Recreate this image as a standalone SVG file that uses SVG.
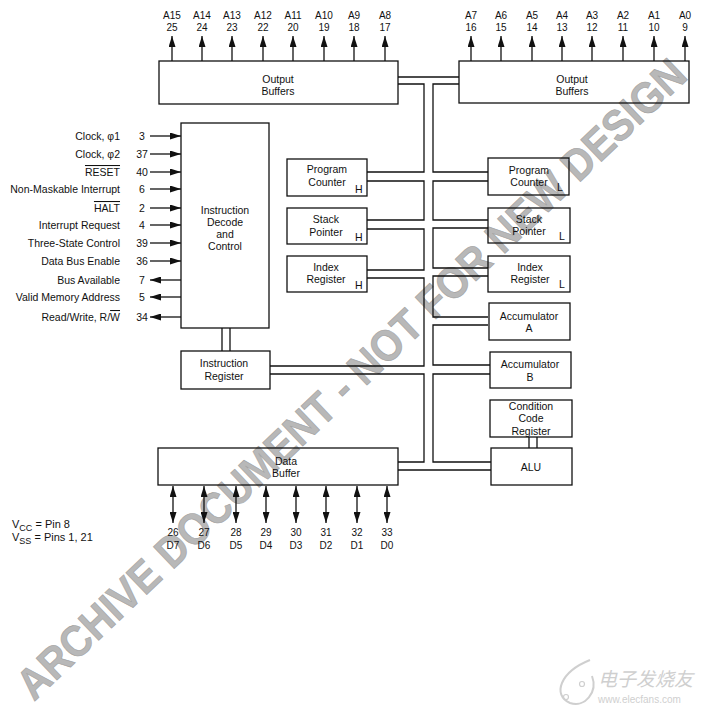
<svg xmlns="http://www.w3.org/2000/svg" width="707" height="712" viewBox="0 0 707 712">
<style>
text{font-family:"Liberation Sans",Arial,Helvetica,sans-serif;font-size:10.5px;fill:#111}
.c{text-anchor:middle}
.r{text-anchor:end}
.pin{font-size:10px}
.box{fill:none;stroke:#111;stroke-width:1.3}
.ln{fill:none;stroke:#111;stroke-width:1.3}
.wm{font-family:"Liberation Sans",Arial,sans-serif;font-weight:bold;font-size:44px;fill:#b8b8b8;stroke:#a0a0a0;stroke-width:0.6}
</style>
<defs>
<marker id="ah" viewBox="0 0 11 7" refX="11" refY="3.5" markerWidth="11" markerHeight="7" markerUnits="userSpaceOnUse" orient="auto-start-reverse"><path d="M0,0 L11,3.5 L0,7 z" fill="#111"/></marker>
</defs>
<rect width="707" height="712" fill="#fff"/>
<g id="watermark">
<text class="wm" transform="translate(34,702) rotate(-43.6)" textLength="905" lengthAdjust="spacingAndGlyphs">ARCHIVE DOCUMENT - NOT FOR NEW DESIGN</text>
</g>
<g id="logo">
<path d="M590,660 C560,672 552,695 570,703 C585,708 598,692 592,676" fill="none" stroke="#cfcfcf" stroke-width="2"/>
<circle cx="566" cy="697" r="2.5" fill="none" stroke="#cfcfcf" stroke-width="1.2"/>
<circle cx="582" cy="684" r="2.5" fill="none" stroke="#cfcfcf" stroke-width="1.2"/>
<text x="598" y="686" style="font-family:'Noto Sans CJK SC',sans-serif;font-size:19px;fill:#cfcfcf;font-style:italic">电子发烧友</text>
<text x="598" y="703" style="font-size:10px;fill:#cfcfcf">www.elecfans.com</text>
</g>

<g id="connectors">
<path class="ln" d="M398,77 H459"/>
<path class="ln" d="M398,84 H424 V172 H367"/>
<path class="ln" d="M367,181 H424 V220 H367"/>
<path class="ln" d="M367,229 H424 V270 H367"/>
<path class="ln" d="M367,278 H424 V366 H270"/>
<path class="ln" d="M270,374 H424 V462 H398"/>
<path class="ln" d="M459,84 H433 V172 H488"/>
<path class="ln" d="M488,181 H433 V220 H488"/>
<path class="ln" d="M488,228 H433 V268 H488"/>
<path class="ln" d="M488,276 H433 V317 H488"/>
<path class="ln" d="M488,325 H433 V365 H490"/>
<path class="ln" d="M490,374 H433 V462 H491"/>
<path class="ln" d="M398,470 H491"/>
<path class="ln" d="M529,437 V448 M537,437 V448"/>
<path class="ln" d="M222,328 V351 M230,328 V351"/>
<g class="ln" marker-end="url(#ah)">
<path d="M172,61 V36"/><path d="M202,61 V36"/><path d="M232,61 V36"/><path d="M263,61 V36"/>
<path d="M293,61 V36"/><path d="M324,61 V36"/><path d="M354,61 V36"/><path d="M385,61 V36"/>
<path d="M471,61 V36"/><path d="M501,61 V36"/><path d="M532,61 V36"/><path d="M562,61 V36"/>
<path d="M592,61 V36"/><path d="M623,61 V36"/><path d="M654,61 V36"/><path d="M685,61 V36"/>
</g>
<g class="ln" marker-end="url(#ah)">
<path d="M150,136 H181"/><path d="M150,154 H181"/><path d="M150,172 H181"/><path d="M150,189 H181"/>
<path d="M150,208 H181"/><path d="M150,225 H181"/><path d="M150,243 H181"/><path d="M150,261 H181"/>
</g>
<g class="ln" marker-end="url(#ah)">
<path d="M181,280 H150"/><path d="M181,297 H150"/><path d="M181,317 H150"/>
</g>
<g class="ln" marker-start="url(#ah)" marker-end="url(#ah)">
<path d="M173,486 V523"/><path d="M204,486 V523"/><path d="M236,486 V523"/><path d="M266,486 V523"/>
<path d="M296,486 V523"/><path d="M326,486 V523"/><path d="M357,486 V523"/><path d="M387,486 V523"/>
</g>
</g>

<g id="addr-labels">
<text class="c pin" x="172" y="19">A15</text><text class="c pin" x="172" y="31">25</text>
<text class="c pin" x="202" y="19">A14</text><text class="c pin" x="202" y="31">24</text>
<text class="c pin" x="232" y="19">A13</text><text class="c pin" x="232" y="31">23</text>
<text class="c pin" x="263" y="19">A12</text><text class="c pin" x="263" y="31">22</text>
<text class="c pin" x="293" y="19">A11</text><text class="c pin" x="293" y="31">20</text>
<text class="c pin" x="324" y="19">A10</text><text class="c pin" x="324" y="31">19</text>
<text class="c pin" x="354" y="19">A9</text><text class="c pin" x="354" y="31">18</text>
<text class="c pin" x="385" y="19">A8</text><text class="c pin" x="385" y="31">17</text>
<text class="c pin" x="471" y="19">A7</text><text class="c pin" x="471" y="31">16</text>
<text class="c pin" x="501" y="19">A6</text><text class="c pin" x="501" y="31">15</text>
<text class="c pin" x="532" y="19">A5</text><text class="c pin" x="532" y="31">14</text>
<text class="c pin" x="562" y="19">A4</text><text class="c pin" x="562" y="31">13</text>
<text class="c pin" x="592" y="19">A3</text><text class="c pin" x="592" y="31">12</text>
<text class="c pin" x="623" y="19">A2</text><text class="c pin" x="623" y="31">11</text>
<text class="c pin" x="654" y="19">A1</text><text class="c pin" x="654" y="31">10</text>
<text class="c pin" x="685" y="19">A0</text><text class="c pin" x="685" y="31">9</text>
</g>

<g id="ctrl-labels">
<text class="r" x="120" y="140">Clock, φ1</text><text class="c" x="142" y="140">3</text>
<text class="r" x="120" y="158">Clock, φ2</text><text class="c" x="142" y="158">37</text>
<text class="r" x="120" y="176"><tspan text-decoration="overline">RESET</tspan></text><text class="c" x="142" y="176">40</text>
<text class="r" x="120" y="193">Non-Maskable Interrupt</text><text class="c" x="142" y="193">6</text>
<text class="r" x="120" y="212"><tspan text-decoration="overline">HALT</tspan></text><text class="c" x="142" y="212">2</text>
<text class="r" x="120" y="229">Interrupt Request</text><text class="c" x="142" y="229">4</text>
<text class="r" x="120" y="247">Three-State Control</text><text class="c" x="142" y="247">39</text>
<text class="r" x="120" y="265">Data Bus Enable</text><text class="c" x="142" y="265">36</text>
<text class="r" x="120" y="284">Bus Available</text><text class="c" x="142" y="284">7</text>
<text class="r" x="120" y="301">Valid Memory Address</text><text class="c" x="142" y="301">5</text>
<text class="r" x="120" y="321">Read/Write, R/<tspan text-decoration="overline">W</tspan></text><text class="c" x="142" y="321">34</text>
</g>

<g id="output-buffers-hi"><rect class="box" x="159" y="61" width="239" height="43"/>
<text class="c" x="278" y="83">Output</text><text class="c" x="278" y="95">Buffers</text></g>
<g id="output-buffers-lo"><rect class="box" x="459" y="61" width="230" height="42"/>
<text class="c" x="572" y="83">Output</text><text class="c" x="572" y="95">Buffers</text></g>
<g id="instr-decode"><rect class="box" x="181" y="123" width="88" height="205"/>
<text class="c" x="225" y="214">Instruction</text><text class="c" x="225" y="226">Decode</text>
<text class="c" x="225" y="238">and</text><text class="c" x="225" y="250">Control</text></g>
<g id="instr-register"><rect class="box" x="181" y="351" width="89" height="38"/>
<text class="c" x="224" y="367">Instruction</text><text class="c" x="224" y="380">Register</text></g>
<g id="pc-h"><rect class="box" x="287" y="159" width="80" height="37"/>
<text class="c" x="327" y="173">Program</text><text class="c" x="327" y="186">Counter</text><text x="355" y="193">H</text></g>
<g id="sp-h"><rect class="box" x="287" y="208" width="80" height="36"/>
<text class="c" x="326" y="223">Stack</text><text class="c" x="326" y="236">Pointer</text><text x="355" y="241">H</text></g>
<g id="ix-h"><rect class="box" x="287" y="256" width="80" height="36"/>
<text class="c" x="326" y="271">Index</text><text class="c" x="326" y="283">Register</text><text x="355" y="289">H</text></g>
<g id="pc-l"><rect class="box" x="488" y="158" width="81" height="37"/>
<text class="c" x="529" y="174">Program</text><text class="c" x="529" y="186">Counter</text><text x="557" y="191">L</text></g>
<g id="sp-l"><rect class="box" x="488" y="208" width="82" height="35"/>
<text class="c" x="529" y="223">Stack</text><text class="c" x="529" y="235">Pointer</text><text x="559" y="240">L</text></g>
<g id="ix-l"><rect class="box" x="488" y="256" width="82" height="36"/>
<text class="c" x="530" y="271">Index</text><text class="c" x="530" y="283">Register</text><text x="559" y="288">L</text></g>
<g id="acc-a"><rect class="box" x="489" y="303" width="81" height="37"/>
<text class="c" x="529" y="320">Accumulator</text><text class="c" x="529" y="332">A</text></g>
<g id="acc-b"><rect class="box" x="490" y="352" width="81" height="36"/>
<text class="c" x="530" y="368">Accumulator</text><text class="c" x="530" y="381">B</text></g>
<g id="ccr"><rect class="box" x="490" y="400" width="82" height="37"/>
<text class="c" x="531" y="410">Condition</text><text class="c" x="531" y="422">Code</text><text class="c" x="531" y="435">Register</text></g>
<g id="alu"><rect class="box" x="491" y="448" width="81" height="37"/>
<text class="c" x="531" y="471">ALU</text></g>
<g id="data-buffer"><rect class="box" x="158" y="448" width="240" height="37"/>
<text class="c" x="286" y="465">Data</text><text class="c" x="286" y="477">Buffer</text></g>

<g id="data-labels">
<text class="c pin" x="173" y="536">26</text><text class="c pin" x="173" y="549">D7</text>
<text class="c pin" x="204" y="536">27</text><text class="c pin" x="204" y="549">D6</text>
<text class="c pin" x="236" y="536">28</text><text class="c pin" x="236" y="549">D5</text>
<text class="c pin" x="266" y="536">29</text><text class="c pin" x="266" y="549">D4</text>
<text class="c pin" x="296" y="536">30</text><text class="c pin" x="296" y="549">D3</text>
<text class="c pin" x="326" y="536">31</text><text class="c pin" x="326" y="549">D2</text>
<text class="c pin" x="357" y="536">32</text><text class="c pin" x="357" y="549">D1</text>
<text class="c pin" x="387" y="536">33</text><text class="c pin" x="387" y="549">D0</text>
</g>
<g id="power">
<text x="12" y="528" style="font-size:11px">V<tspan dy="3" style="font-size:9px">CC</tspan><tspan dy="-3"> = Pin 8</tspan></text>
<text x="12" y="541" style="font-size:11px">V<tspan dy="3" style="font-size:9px">SS</tspan><tspan dy="-3"> = Pins 1, 21</tspan></text>
</g>
</svg>
